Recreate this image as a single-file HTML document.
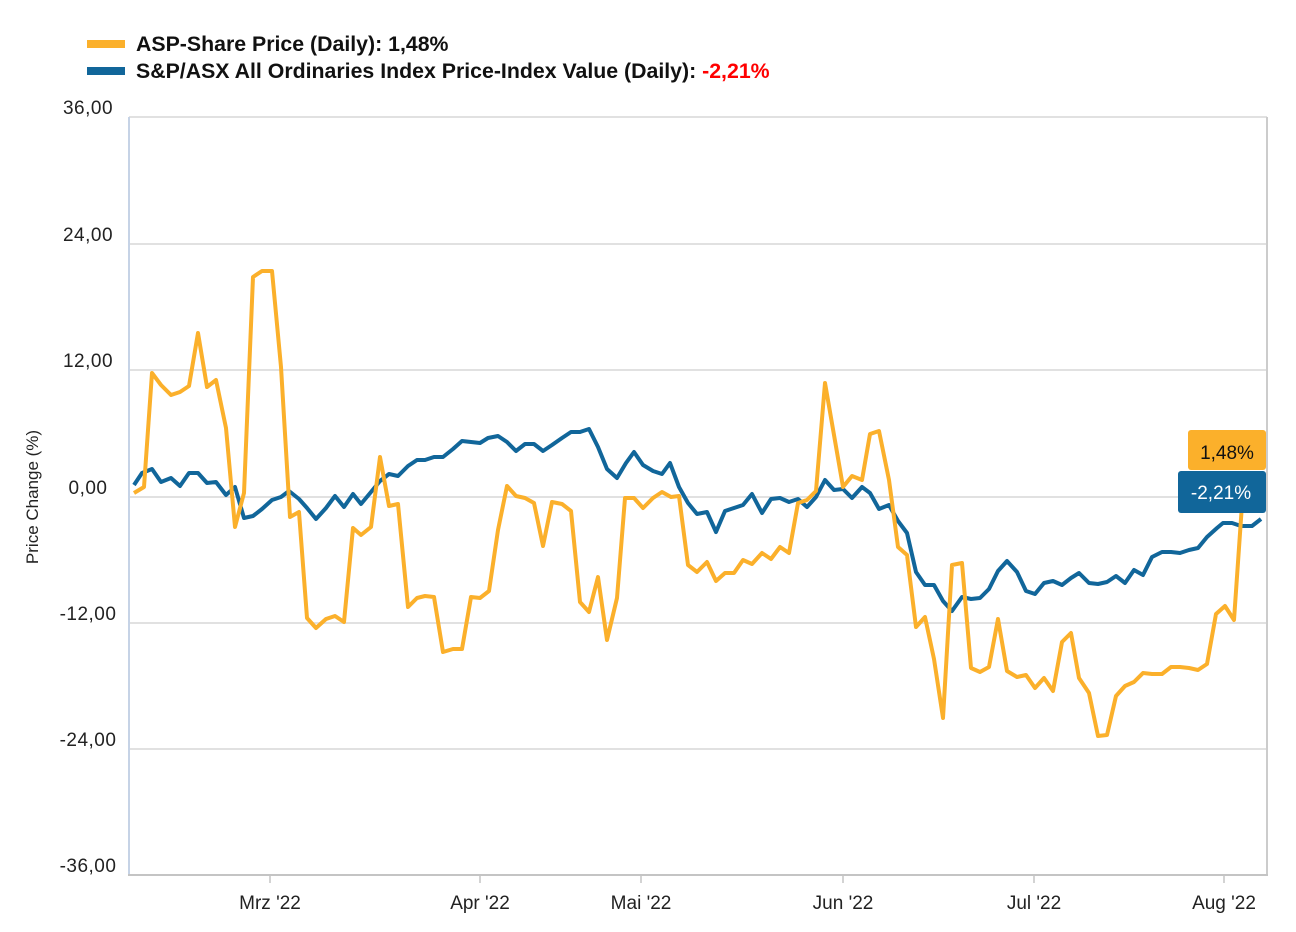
<!DOCTYPE html>
<html><head><meta charset="utf-8"><style>
html,body{margin:0;padding:0;background:#fff;}
svg{display:block;font-family:"Liberation Sans",sans-serif;}
</style></head><body>
<svg width="1296" height="932" viewBox="0 0 1296 932" xmlns="http://www.w3.org/2000/svg">
<rect width="1296" height="932" fill="#fff"/>
<!-- legend -->
<rect x="87" y="40" width="38" height="8" fill="#FBB02B"/>
<text x="136" y="51" font-size="21.3" font-weight="bold" fill="#111">ASP-Share Price (Daily): 1,48%</text>
<rect x="87" y="67" width="38" height="8" fill="#11669A"/>
<text x="136" y="78" font-size="21.3" font-weight="bold" fill="#111">S&amp;P/ASX All Ordinaries Index Price-Index Value (Daily): <tspan fill="#f00">-2,21%</tspan></text>
<!-- gridlines -->
<g stroke="#e1e1e1" stroke-width="2">
<line x1="129" y1="117" x2="1267" y2="117"/>
<line x1="129" y1="244" x2="1267" y2="244"/>
<line x1="129" y1="370" x2="1267" y2="370"/>
<line x1="129" y1="497" x2="1267" y2="497"/>
<line x1="129" y1="623" x2="1267" y2="623"/>
<line x1="129" y1="749" x2="1267" y2="749"/>
</g>
<line x1="129" y1="117" x2="129" y2="876" stroke="#c6d3e6" stroke-width="2"/>
<line x1="1267" y1="117" x2="1267" y2="876" stroke="#cccccc" stroke-width="2"/>
<line x1="128" y1="875" x2="1268" y2="875" stroke="#c4c4c4" stroke-width="2"/>
<g stroke="#c4c4c4" stroke-width="1.5">
<line x1="270" y1="875" x2="270" y2="883"/>
<line x1="480" y1="875" x2="480" y2="883"/>
<line x1="641" y1="875" x2="641" y2="883"/>
<line x1="843" y1="875" x2="843" y2="883"/>
<line x1="1034" y1="875" x2="1034" y2="883"/>
<line x1="1224" y1="875" x2="1224" y2="883"/>
</g>
<!-- y labels -->
<g font-size="19" fill="#222" text-anchor="middle" letter-spacing="0.5">
<text x="88" y="114">36,00</text>
<text x="88" y="241">24,00</text>
<text x="88" y="367">12,00</text>
<text x="88" y="494">0,00</text>
<text x="88" y="620">-12,00</text>
<text x="88" y="746">-24,00</text>
<text x="88" y="872">-36,00</text>
</g>
<!-- x labels -->
<g font-size="19" fill="#222" text-anchor="middle">
<text x="270" y="909">Mrz '22</text>
<text x="480" y="909">Apr '22</text>
<text x="641" y="909">Mai '22</text>
<text x="843" y="909">Jun '22</text>
<text x="1034" y="909">Jul '22</text>
<text x="1224" y="909">Aug '22</text>
</g>
<text transform="translate(38,497) rotate(-90)" font-size="17" fill="#222" text-anchor="middle">Price Change (%)</text>
<!-- blue series -->
<polyline fill="none" stroke="#11669A" stroke-width="4" stroke-linejoin="round" points="134,485 142,473 152,469 161,482 171,478 180,486 189,473 198,473 207,483 216,482 226,495 235,487 244,518 253,516 262,509 272,500 281,497 289,491 299,499 307,508 316,519 326,508 335,496 344,507 353,494 361,504 371,492 380,481 389,474 398,476 408,466 417,460 425,460 434,457 443,457 453,449 462,441 471,442 480,443 488,438 498,436 507,442 516,451 525,444 534,444 543,451 552,445 562,438 571,432 580,432 589,429 598,447 607,469 617,478 626,463 634,452 643,465 653,471 662,474 670,463 679,487 688,503 697,514 707,512 716,532 725,511 734,508 743,505 752,494 762,513 771,499 780,498 789,502 798,499 807,507 816,497 825,480 834,490 843,489 852,498 862,487 870,493 879,509 889,505 898,521 907,533 916,572 925,585 934,585 943,601 952,611 962,597 971,599 980,598 989,589 998,571 1007,561 1017,572 1026,591 1035,594 1044,583 1053,581 1062,585 1071,578 1079,573 1089,583 1098,584 1107,582 1116,576 1125,583 1134,570 1143,575 1152,557 1162,552 1171,552 1180,553 1189,550 1198,548 1207,537 1217,528 1223,523 1232,523 1241,526 1252,526 1261,519"/>
<!-- orange series -->
<polyline fill="none" stroke="#FBB02B" stroke-width="4" stroke-linejoin="round" points="134,493 144,487 152,373 161,385 171,395 180,392 189,386 198,333 207,387 216,380 226,428 235,527 244,493 253,277 262,271 272,271 281,367 290,517 299,512 307,618 316,628 326,619 335,616 344,622 353,528 361,535 371,527 380,457 389,506 398,504 408,607 417,598 425,596 434,597 443,652 453,649 462,649 471,597 480,598 489,591 498,530 507,486 516,496 525,498 534,503 543,546 552,502 562,504 571,511 580,602 589,612 598,577 607,640 617,598 625,498 634,498 643,508 653,498 662,492 671,497 679,496 688,565 697,572 707,562 716,581 725,573 734,573 743,560 752,564 762,553 771,559 780,547 789,553 798,503 807,500 816,491 825,383 834,435 843,487 852,476 862,480 870,434 879,431 889,480 898,547 907,555 916,627 925,617 934,659 943,718 952,565 962,563 971,668 980,672 989,667 998,619 1007,671 1017,677 1026,675 1035,688 1044,678 1053,691 1062,642 1071,633 1079,678 1089,693 1098,736 1107,735 1116,696 1125,686 1134,682 1143,673 1152,674 1162,674 1171,667 1180,667 1189,668 1198,670 1207,664 1216,614 1225,606 1234,620 1243,490 1252,481 1261,481"/>
<!-- end labels -->
<rect x="1188" y="430" width="78" height="40" rx="3" fill="#FBB02B"/>
<text x="1227" y="459" font-size="19" fill="#111" text-anchor="middle">1,48%</text>
<rect x="1178" y="471" width="88" height="42" rx="3" fill="#11669A"/>
<text x="1221" y="499" font-size="19" fill="#fff" text-anchor="middle">-2,21%</text>
</svg>
</body></html>
